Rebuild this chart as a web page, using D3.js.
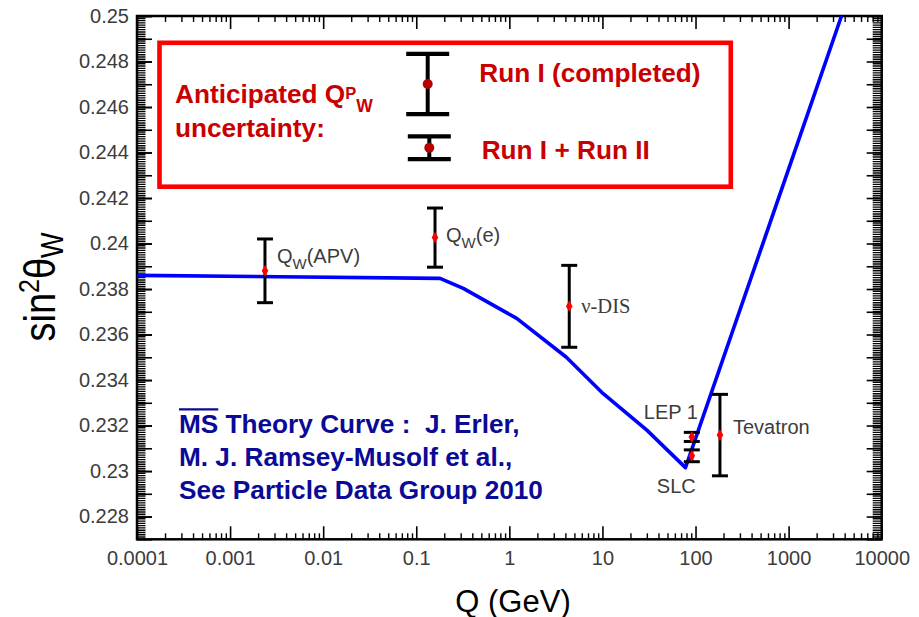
<!DOCTYPE html>
<html>
<head>
<meta charset="utf-8">
<script src="https://cdn.jsdelivr.net/npm/d3@7"></script>
<style>
  html, body { margin: 0; padding: 0; background: #fff; }
  svg { display: block; }
</style>
</head>
<body>
<svg id="chart" width="919" height="617"></svg>
<script>
// ---------------- data ----------------
const curveQ = [0.0001, 0.18, 0.32, 1.2, 4.1, 10.2, 30, 78, 3700];
const curveS = [0.2386, 0.23847, 0.23803, 0.23671, 0.23500, 0.23340, 0.23180, 0.23015, 0.25];

const pointNames = ["APV", "e", "nuDIS", "LEP1", "SLC", "Tevatron"];
const pointQ     = [0.00237, 0.159, 4.4, 91.2, 91.2, 183];
const pointS     = [0.2388, 0.24026, 0.23724, 0.2315, 0.23067, 0.23158];
const pointErr   = [0.0014, 0.0013, 0.0018, 0.0002, 0.00026, 0.00179];

const yTickValues = [0.228, 0.23, 0.232, 0.234, 0.236, 0.238, 0.24, 0.242, 0.244, 0.246, 0.248, 0.25];
const yTickLabels = ["0.228", "0.23", "0.232", "0.234", "0.236", "0.238", "0.24", "0.242", "0.244", "0.246", "0.248", "0.25"];
const xTickValues = [0.0001, 0.001, 0.01, 0.1, 1, 10, 100, 1000, 10000];
const xTickLabels = ["0.0001", "0.001", "0.01", "0.1", "1", "10", "100", "1000", "10000"];

const legendLabels = ["Run I (completed)", "Run I + Run II"];
const legendErr    = [0.00132, 0.0005];

const theoryLines = ["MS Theory Curve :  J. Erler,", "M. J. Ramsey-Musolf et al.,", "See Particle Data Group 2010"];

// ---------------- layout ----------------
const W = 919, H = 617;
const L = 137, R = 881.7, T = 16, B = 539.3;
const sans = "'Liberation Sans', Arial, Helvetica, sans-serif";
const labelGrey = "#3c3c3c";

const svg = d3.select("#chart");
svg.append("rect").attr("width", W).attr("height", H).attr("fill", "#fff");

const x = d3.scaleLog().domain([1e-4, 1e4]).range([L, R]);
const y = d3.scaleLinear().domain([0.227, 0.25]).range([B, T]);

svg.append("clipPath").attr("id", "clip")
  .append("rect").attr("x", L).attr("y", T).attr("width", R - L).attr("height", B - T);

// ---------------- axes ----------------
const yDense = d3.range(2270, 2501).map(v => v / 10000);
const yMid = d3.range(227, 251).map(v => v / 1000);
const xMinor = [];
for (let e = -4; e < 4; e++) for (let m = 2; m <= 9; m++) xMinor.push(m * Math.pow(10, e));

function styleAxis(g) {
  g.select(".domain").remove();
  g.selectAll(".tick line").attr("stroke", "#000");
}

// dense minor ticks on left and right (through the y scale)
let dPath = "";
yDense.forEach(v => {
  const yy = y(v);
  dPath += `M${L},${yy}h8.5M${R},${yy}h-9`;
});
svg.append("path").attr("d", dPath).attr("fill", "none")
  .attr("stroke", "#000").attr("stroke-width", 1.4);

// left
svg.append("g").attr("transform", `translate(${L},0)`)
  .call(d3.axisLeft(y).tickValues(yMid).tickSize(-15).tickFormat(""))
  .call(styleAxis).selectAll(".tick line").attr("stroke-width", 1.6);
const yAx = svg.append("g").attr("transform", `translate(${L},0)`)
  .call(d3.axisLeft(y).tickValues(yTickValues).tickSize(-15).tickPadding(8)
    .tickFormat((d, i) => yTickLabels[i]))
  .call(styleAxis);
yAx.selectAll(".tick line").attr("stroke-width", 1.6);
yAx.selectAll("text").attr("font-family", sans).attr("font-size", 20).attr("fill", labelGrey);

// right
svg.append("g").attr("transform", `translate(${R},0)`)
  .call(d3.axisRight(y).tickValues(yMid).tickSize(-15).tickFormat(""))
  .call(styleAxis).selectAll(".tick line").attr("stroke-width", 1.6);

// bottom
svg.append("g").attr("transform", `translate(0,${B})`)
  .call(d3.axisBottom(x).tickValues(xMinor).tickSize(-6).tickFormat(""))
  .call(styleAxis).selectAll(".tick line").attr("stroke-width", 1.4);
const xAx = svg.append("g").attr("transform", `translate(0,${B})`)
  .call(d3.axisBottom(x).tickValues(xTickValues).tickSize(-13).tickPadding(12)
    .tickFormat((d, i) => xTickLabels[i]))
  .call(styleAxis);
xAx.selectAll(".tick line").attr("stroke-width", 1.6);
xAx.selectAll("text").attr("font-family", sans).attr("font-size", 20).attr("fill", labelGrey);

// top
svg.append("g").attr("transform", `translate(0,${T})`)
  .call(d3.axisTop(x).tickValues(xMinor).tickSize(-6).tickFormat(""))
  .call(styleAxis).selectAll(".tick line").attr("stroke-width", 1.4);
svg.append("g").attr("transform", `translate(0,${T})`)
  .call(d3.axisTop(x).tickValues(xTickValues).tickSize(-13).tickFormat(""))
  .call(styleAxis).selectAll(".tick line").attr("stroke-width", 1.6);

// frame
svg.append("rect").attr("x", L).attr("y", T).attr("width", R - L).attr("height", B - T)
  .attr("fill", "none").attr("stroke", "#000").attr("stroke-width", 2.5);

// ---------------- theory curve ----------------
const curve = curveQ.map((q, i) => [q, curveS[i]]);
svg.append("path").datum(curve)
  .attr("clip-path", "url(#clip)")
  .attr("fill", "none").attr("stroke", "#0000ff").attr("stroke-width", 3.6)
  .attr("stroke-linejoin", "round")
  .attr("d", d3.line().x(d => x(d[0])).y(d => y(d[1])));

// ---------------- data points ----------------
const capHalf = 8;
const pts = svg.append("g");
pointQ.forEach((q, i) => {
  const cx = x(q), s = pointS[i], e = pointErr[i];
  const g = pts.append("g");
  g.append("line").attr("x1", cx).attr("x2", cx).attr("y1", y(s + e)).attr("y2", y(s - e))
    .attr("stroke", "#000").attr("stroke-width", 3);
  [s + e, s - e].forEach(v => g.append("line")
    .attr("x1", cx - capHalf).attr("x2", cx + capHalf).attr("y1", y(v)).attr("y2", y(v))
    .attr("stroke", "#000").attr("stroke-width", 3));
});
pointQ.forEach((q, i) => {
  pts.append("path")
    .attr("transform", `translate(${x(q)},${y(pointS[i])})`)
    .attr("d", d3.symbol(d3.symbolDiamond, 38)())
    .attr("fill", "#ff0000");
});

// ---------------- point labels ----------------
const labelOffsets = { APV: [12, -8], e: [11, 4], nuDIS: [12, 6.5], LEP1: [-48, -18], SLC: [-35, 37], Tevatron: [13, -1] };
function pl(name) {
  const i = pointNames.indexOf(name);
  const o = labelOffsets[name];
  return [x(pointQ[i]) + o[0], y(pointS[i]) + o[1]];
}
function qwLabel(name, tail) {
  const p = pl(name);
  const t = svg.append("text").attr("x", p[0]).attr("y", p[1])
    .attr("font-family", sans).attr("font-size", 20).attr("fill", labelGrey);
  t.append("tspan").text("Q");
  t.append("tspan").attr("font-size", 15).attr("dy", 6).text("W");
  t.append("tspan").attr("dy", -6).text(tail);
}
qwLabel("APV", "(APV)");
qwLabel("e", "(e)");
{
  const p = pl("nuDIS");
  svg.append("text").attr("x", p[0]).attr("y", p[1])
    .attr("font-family", "'Liberation Serif', 'Times New Roman', serif").attr("font-size", 20.5)
    .attr("fill", labelGrey).text("ν-DIS");
}
[["LEP1", "LEP 1"], ["SLC", "SLC"], ["Tevatron", "Tevatron"]].forEach(([n, txt]) => {
  const p = pl(n);
  svg.append("text").attr("x", p[0]).attr("y", p[1])
    .attr("font-family", sans).attr("font-size", 20).attr("fill", labelGrey).text(txt);
});

// ---------------- legend box ----------------
const red = "#ff0000", darkRed = "#c80000";
const fs = 26.2;
svg.append("rect").attr("x", 159.5).attr("y", 42.8).attr("width", 730.8 - 159.5).attr("height", 186.7 - 42.8)
  .attr("fill", "none").attr("stroke", red).attr("stroke-width", 4.6);

const lt = svg.append("text").attr("x", 175).attr("y", 103.3)
  .attr("font-family", sans).attr("font-weight", "bold").attr("font-size", fs).attr("fill", darkRed);
lt.append("tspan").text("Anticipated Q");
lt.append("tspan").attr("font-size", 16.5).attr("dy", -4.5).text("P");
lt.append("tspan").attr("font-size", 17.5).attr("dy", 12.9).text("W");
svg.append("text").attr("x", 175).attr("y", 136.7)
  .attr("font-family", sans).attr("font-weight", "bold").attr("font-size", fs).attr("fill", darkRed)
  .text("uncertainty:");

const legendGlyphX = [427.7, 429.3];
const legendGlyphY = [84, 147.7];
const legendTextX = [479.3, 481.7];
const legendTextY = [81.7, 159];
const pxPerUnit = y(0.227) - y(0.228);
legendLabels.forEach((lab, i) => {
  const cx = legendGlyphX[i], cy = legendGlyphY[i];
  const h = legendErr[i] * pxPerUnit * 1000;
  svg.append("line").attr("x1", cx).attr("x2", cx).attr("y1", cy - h).attr("y2", cy + h)
    .attr("stroke", "#000").attr("stroke-width", 4);
  [cy - h, cy + h].forEach(v => svg.append("line")
    .attr("x1", cx - 21.5).attr("x2", cx + 21.5).attr("y1", v).attr("y2", v)
    .attr("stroke", "#000").attr("stroke-width", 4.2));
  svg.append("circle").attr("cx", cx).attr("cy", cy).attr("r", 5).attr("fill", "#b80000");
  svg.append("text").attr("x", legendTextX[i]).attr("y", legendTextY[i])
    .attr("font-family", sans).attr("font-weight", "bold").attr("font-size", fs).attr("fill", darkRed)
    .text(lab);
});

// ---------------- theory text ----------------
const navy = "#0a0a96";
const theoryY = [433.3, 466, 499];
theoryLines.forEach((line, i) => {
  svg.append("text").attr("x", 179).attr("y", theoryY[i])
    .attr("font-family", sans).attr("font-weight", "bold").attr("font-size", fs)
    .attr("fill", navy).style("white-space", "pre").text(line);
});
{
  const probe = svg.append("text").attr("font-family", sans).attr("font-weight", "bold")
    .attr("font-size", fs).attr("x", -1000).attr("y", -1000).text("MS");
  const w = probe.node().getComputedTextLength();
  probe.remove();
  svg.append("line").attr("x1", 179).attr("x2", 179 + w).attr("y1", 409.3).attr("y2", 409.3)
    .attr("stroke", navy).attr("stroke-width", 2.3);
}

// ---------------- axis titles ----------------
svg.append("text").attr("x", 513).attr("y", 611.5).attr("text-anchor", "middle")
  .attr("font-family", sans).attr("font-size", 31).attr("fill", "#000").text("Q (GeV)");

const yt = svg.append("text").attr("transform", "translate(55,287) rotate(-90) scale(1,1.15)")
  .attr("text-anchor", "middle").attr("font-family", sans).attr("font-size", 38).attr("fill", "#000");
yt.append("tspan").text("sin");
yt.append("tspan").attr("font-size", 25).attr("dy", -14).text("2");
yt.append("tspan").attr("dy", 14).text("θ");
yt.append("tspan").attr("font-size", 27).attr("dy", 7).text("W");
</script>
</body>
</html>
